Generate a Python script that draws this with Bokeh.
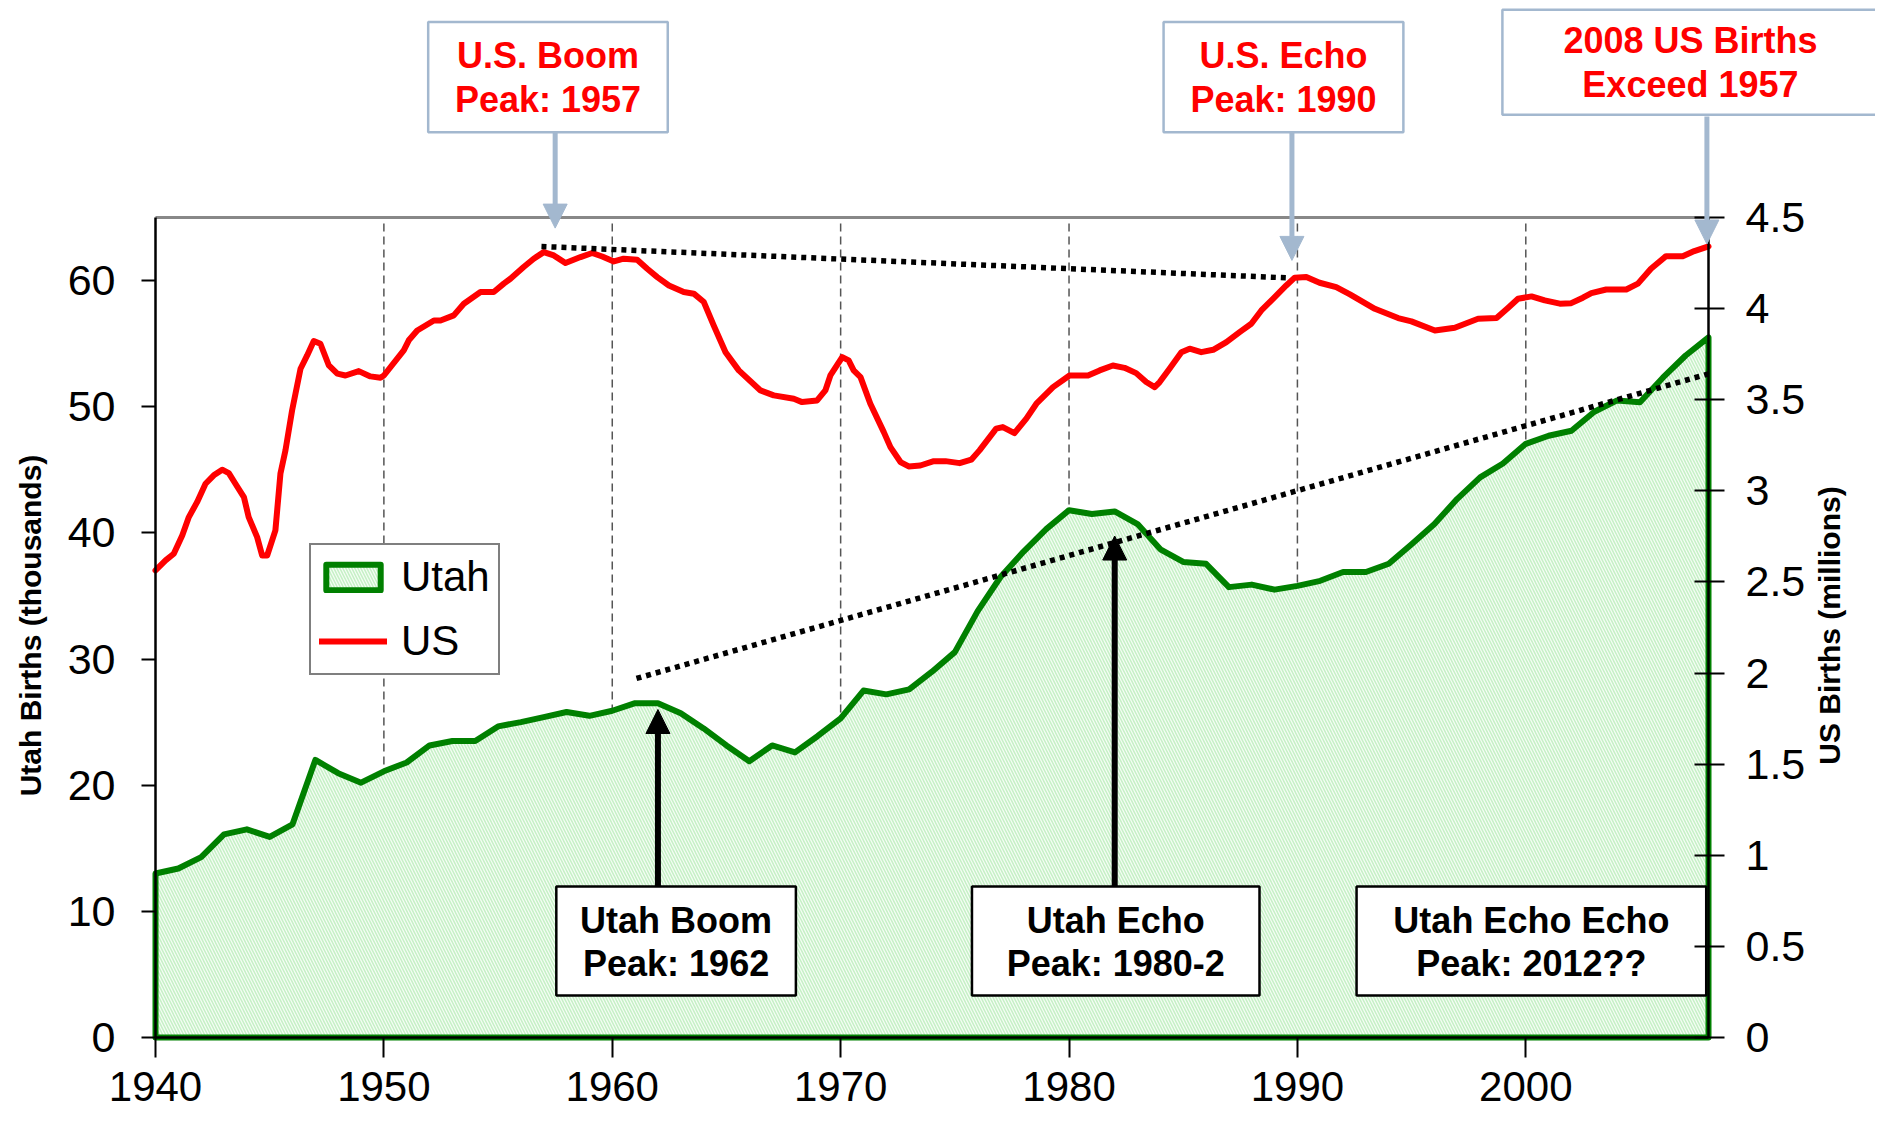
import numpy as np
from bokeh.plotting import figure
from bokeh.models import (Range1d, LinearAxis, FixedTicker, CustomJSTickFormatter, Arrow,
                          NormalHead, Label, Legend, LegendItem, ColumnDataSource)
from bokeh.core.properties import value
from bokeh.embed import file_html
from bokeh.resources import INLINE

# ---------------- data ----------------
utah_years = list(range(1940, 2009))
utah_births = [  # thousands
    13.0, 13.4, 14.3, 16.1, 16.5, 15.9, 16.9, 22.0, 20.95, 20.2,
    21.1, 21.8, 23.15, 23.5, 23.5, 24.66, 25.0, 25.4, 25.8, 25.5,
    25.9, 26.5, 26.5, 25.7, 24.5, 23.15, 21.9, 23.15, 22.6, 23.9,
    25.3, 27.5, 27.2, 27.6, 29.0, 30.55, 33.8, 36.5, 38.5, 40.3,
    41.8, 41.5, 41.7, 40.7, 38.7, 37.7, 37.55, 35.7, 35.9, 35.5,
    35.8, 36.2, 36.9, 36.9, 37.55, 39.1, 40.7, 42.7, 44.4, 45.5,
    47.06, 47.7, 48.1, 49.6, 50.5, 50.36, 52.3, 54.06, 55.5]

us_years = [
    1940.0, 1940.44, 1940.8, 1941.17, 1941.46, 1941.82, 1942.19, 1942.55, 1942.92, 1943.21,
    1943.5, 1943.87, 1944.08, 1944.45, 1944.67, 1944.89, 1945.25, 1945.47, 1945.69, 1945.98,
    1946.35, 1946.64, 1946.93, 1947.22, 1947.59, 1947.96, 1948.32, 1948.9, 1949.41, 1949.85,
    1950.0, 1950.87, 1951.09, 1951.46, 1952.19, 1952.48, 1953.06, 1953.5, 1954.23, 1954.81,
    1955.25, 1955.54, 1956.12, 1956.56, 1957.0, 1957.44, 1957.95, 1958.61, 1959.12, 1959.56,
    1960.07, 1960.5, 1961.09, 1961.53, 1961.97, 1962.48, 1963.13, 1963.57, 1964.01, 1964.44,
    1964.96, 1965.54, 1966.49, 1967.07, 1967.95, 1968.31, 1968.97, 1969.33, 1969.55, 1970.07,
    1970.35, 1970.57, 1970.87, 1971.3, 1971.89, 1972.18, 1972.62, 1972.98, 1973.49, 1974.08,
    1974.59, 1975.21, 1975.72, 1976.08, 1976.81, 1977.1, 1977.61, 1978.13, 1978.57, 1979.3,
    1980.02, 1980.83, 1981.34, 1981.92, 1982.43, 1982.94, 1983.38, 1983.75, 1983.97, 1984.4,
    1984.92, 1985.28, 1985.79, 1986.31, 1986.89, 1987.47, 1987.98, 1988.42, 1988.93, 1989.51,
    1989.88, 1990.39, 1990.97, 1991.7, 1992.3, 1993.39, 1994.41, 1994.99, 1996.02, 1996.89,
    1997.91, 1998.72, 1999.23, 1999.66, 2000.25, 2000.83, 2001.49, 2001.99, 2002.5, 2002.87,
    2003.52, 2004.4, 2004.91, 2005.48, 2006.14, 2006.87, 2007.38, 2008.0]
us_births = [  # millions
    2.563, 2.618, 2.655, 2.755, 2.856, 2.938, 3.039, 3.085, 3.116, 3.097,
    3.039, 2.966, 2.856, 2.746, 2.645, 2.645, 2.783, 3.094, 3.222, 3.441,
    3.670, 3.743, 3.822, 3.807, 3.688, 3.643, 3.633, 3.657, 3.628, 3.621,
    3.633, 3.771, 3.826, 3.880, 3.935, 3.935, 3.963, 4.027, 4.091, 4.091,
    4.137, 4.164, 4.228, 4.274, 4.310, 4.292, 4.250, 4.283, 4.305, 4.286,
    4.259, 4.274, 4.268, 4.219, 4.173, 4.127, 4.091, 4.082, 4.036, 3.908,
    3.761, 3.661, 3.551, 3.524, 3.505, 3.487, 3.496, 3.551, 3.633, 3.734,
    3.716, 3.661, 3.624, 3.478, 3.322, 3.240, 3.158, 3.134, 3.139, 3.163,
    3.163, 3.152, 3.171, 3.222, 3.341, 3.350, 3.317, 3.396, 3.478, 3.569,
    3.633, 3.633, 3.661, 3.688, 3.675, 3.646, 3.597, 3.569, 3.597, 3.670,
    3.761, 3.780, 3.761, 3.774, 3.816, 3.871, 3.917, 3.990, 4.054, 4.127,
    4.170, 4.173, 4.142, 4.118, 4.078, 3.999, 3.948, 3.930, 3.880, 3.895,
    3.944, 3.948, 4.005, 4.054, 4.067, 4.045, 4.027, 4.030, 4.060, 4.085,
    4.105, 4.105, 4.137, 4.219, 4.288, 4.288, 4.316, 4.341]

x_ticks = [1940, 1950, 1960, 1970, 1980, 1990, 2000]
grid_years = [1950, 1960, 1970, 1980, 1990, 2000]
left_ticks = [0, 10, 20, 30, 40, 50, 60]
right_ticks = [0, 0.5, 1, 1.5, 2, 2.5, 3, 3.5, 4, 4.5]

# trend (dotted) lines
us_trend_x = [1956.9, 1989.7]
us_trend_y = [4.341, 4.168]          # millions
utah_trend_x = [1961.06, 2008.0]
utah_trend_y = [28.46, 52.61]        # thousands

# annotation texts
utah_notes = ["Utah Boom\nPeak: 1962", "Utah Echo\nPeak: 1980-2", "Utah Echo Echo\nPeak: 2012??"]
us_notes = ["U.S. Boom\nPeak: 1957", "U.S. Echo\nPeak: 1990", "2008 US Births\nExceed 1957"]

X0, X1 = 1940, 2008
LEFT_MAX = 65.0
RIGHT_MAX = 4.5
RATIO = LEFT_MAX / RIGHT_MAX
PX_PER_YEAR = 1553 / 68.0
PX_PER_UNIT = 820 / 65.0
FRAME_W, FRAME_H = 1875, 1124
ZERO_Y = 1037                      # pixel row of value 0
XL = X0 - 155 / PX_PER_YEAR
XR = X0 + (FRAME_W - 155) / PX_PER_YEAR
Y_TOP = ZERO_Y / PX_PER_UNIT
Y_BOT = -(FRAME_H - ZERO_Y) / PX_PER_UNIT
FONT = "Liberation Sans"

p = figure(frame_width=FRAME_W, frame_height=FRAME_H,
           x_range=Range1d(XL, XR), y_range=Range1d(Y_BOT, Y_TOP),
           output_backend="svg", toolbar_location=None,
           min_border_left=0, min_border_right=0, min_border_top=0, min_border_bottom=0,
           background_fill_color="white", border_fill_color="white", outline_line_color=None)
p.extra_y_ranges = {"us": Range1d(Y_BOT / RATIO, Y_TOP / RATIO)}
p.xgrid.grid_line_color = None
p.ygrid.grid_line_color = None


def style_axis(ax, size="43px"):
    ax.axis_line_color = "black"
    ax.axis_line_width = 2.5
    ax.major_tick_line_color = "black"
    ax.major_tick_line_width = 2
    ax.minor_tick_line_color = None
    ax.major_label_text_font = FONT
    ax.major_label_text_font_size = size
    ax.major_label_text_color = "black"


xa = p.xaxis[0]
style_axis(xa, "42px")
xa.ticker = FixedTicker(ticks=x_ticks)
xa.bounds = (X0, X1)
xa.fixed_location = 0
xa.major_tick_out = 20
xa.major_tick_in = 0
xa.major_label_standoff = 14

ya = p.yaxis[0]
style_axis(ya)
ya.ticker = FixedTicker(ticks=left_ticks)
ya.bounds = (0, LEFT_MAX)
ya.fixed_location = X0
ya.major_tick_out = 14
ya.major_tick_in = 0
ya.major_label_standoff = 26

ra = LinearAxis(y_range_name="us", ticker=FixedTicker(ticks=right_ticks), bounds=(0, RIGHT_MAX),
                formatter=CustomJSTickFormatter(code="return tick.toString();"))
style_axis(ra)
ra.fixed_location = X1
ra.major_tick_out = 16
ra.major_tick_in = 14
ra.major_label_standoff = 21
p.add_layout(ra, "right")

# dashed vertical grid and top frame line
p.segment(x0=grid_years, y0=[0] * len(grid_years), x1=grid_years, y1=[LEFT_MAX] * len(grid_years),
          line_color="#555555", line_width=1.5, line_dash="8 5")
p.segment(x0=[X0], y0=[LEFT_MAX], x1=[X1], y1=[LEFT_MAX], line_color="#888888", line_width=3)

# Utah area
area_x = [utah_years[0]] + utah_years + [utah_years[-1]]
area_y = [0] + utah_births + [0]
utah_r = p.patch(area_x, area_y, fill_color="#f5fdf5", hatch_pattern="\\", hatch_color="#c6f0c6",
                 hatch_scale=6, hatch_weight=1.5, line_color="#008000", line_width=6, line_join="round")

# US line
us_r = p.line(us_years, us_births, y_range_name="us", line_color="#ff0000", line_width=6,
              line_join="round", line_cap="round")

# dotted trend lines
p.line(us_trend_x, us_trend_y, y_range_name="us", line_color="black", line_width=5.5, line_dash="5 5")
p.line(utah_trend_x, utah_trend_y, line_color="black", line_width=5.5, line_dash="5 5")

# Utah annotation boxes (bottom)
ub_left = [1957.55, 1975.75, 1992.59]
ub_right = [1968.04, 1988.34, 2007.9]
p.quad(left=ub_left, right=ub_right, bottom=[3.33] * 3, top=[11.97] * 3,
       fill_color="white", line_color="black", line_width=2.5)
ucx = [(a + b) / 2 for a, b in zip(ub_left, ub_right)]
l1 = [t.split("\n")[0] for t in utah_notes]
l2 = [t.split("\n")[1] for t in utah_notes]
src_u = ColumnDataSource(dict(x=ucx + ucx, y=[9.27] * 3 + [5.87] * 3, t=l1 + l2))
p.text(x="x", y="y", text="t", source=src_u, text_font=value(FONT), text_font_style="bold",
       text_font_size="36px", text_align="center", text_baseline="middle", text_color="black")

# black arrows to Utah peaks
for xa_, tip in [(1962.0, 26.0), (1982.0, 39.75)]:
    p.add_layout(Arrow(end=NormalHead(size=24, fill_color="black", line_color="black"),
                       x_start=xa_, y_start=11.97, x_end=xa_, y_end=tip,
                       line_color="black", line_width=6))

# US annotation boxes (top)
tb_left = [1951.94, 1984.14]
tb_right = [1962.43, 1994.64]
BLUE = "#a3b8cf"
p.quad(left=tb_left, right=tb_right, bottom=[71.76] * 2, top=[80.49] * 2,
       fill_color="white", line_color=BLUE, line_width=2.5)
tcx = [(a + b) / 2 for a, b in zip(tb_left, tb_right)]
t1 = [t.split("\n")[0] for t in us_notes[:2]]
t2 = [t.split("\n")[1] for t in us_notes[:2]]
src_t = ColumnDataSource(dict(x=tcx + tcx, y=[77.84] * 2 + [74.32] * 2, t=t1 + t2))
p.text(x="x", y="y", text="t", source=src_t, text_font=value(FONT), text_font_style="bold",
       text_font_size="36px", text_align="center", text_baseline="middle", text_color="#ff0000")

p.add_layout(Label(x=2007.21, y=77.31, text=us_notes[2], text_align="center", text_baseline="middle",
                   text_font=FONT, text_font_style="bold", text_font_size="36px", text_color="#ff0000",
                   text_line_height=1.07, border_line_color=BLUE, border_line_width=2.5,
                   background_fill_color="white", padding=(61, 10)))

# blue arrows
for xa_, y0, tip in [(1957.5, 71.76, 64.16), (1989.76, 71.76, 61.6), (2007.93, 73.0, 62.9)]:
    p.add_layout(Arrow(end=NormalHead(size=24, fill_color=BLUE, line_color=BLUE),
                       x_start=xa_, y_start=y0, x_end=xa_, y_end=tip,
                       line_color=BLUE, line_width=5))

# axis titles
p.add_layout(Label(x=1934.53, y=32.66, text="Utah Births (thousands)", angle=np.pi / 2,
                   text_align="center", text_baseline="middle", text_font=FONT,
                   text_font_style="bold", text_font_size="30px", text_color="black"))
p.add_layout(Label(x=2013.3, y=32.66, text="US Births (millions)", angle=np.pi / 2,
                   text_align="center", text_baseline="middle", text_font=FONT,
                   text_font_style="bold", text_font_size="30px", text_color="black"))

# legend (location measured from the frame's bottom-left corner)
legend = Legend(items=[LegendItem(label="Utah", renderers=[utah_r]),
                       LegendItem(label="US", renderers=[us_r])],
                location=(309, FRAME_H - 675), orientation="vertical",
                label_text_font=FONT, label_text_font_size="42px", label_text_color="black",
                glyph_width=68, glyph_height=32, label_standoff=14, padding=8, spacing=16,
                border_line_color="black", border_line_width=2, background_fill_color="white",
                background_fill_alpha=1.0, margin=0)
p.add_layout(legend)

open("out.html", "w").write(file_html(p, INLINE))
